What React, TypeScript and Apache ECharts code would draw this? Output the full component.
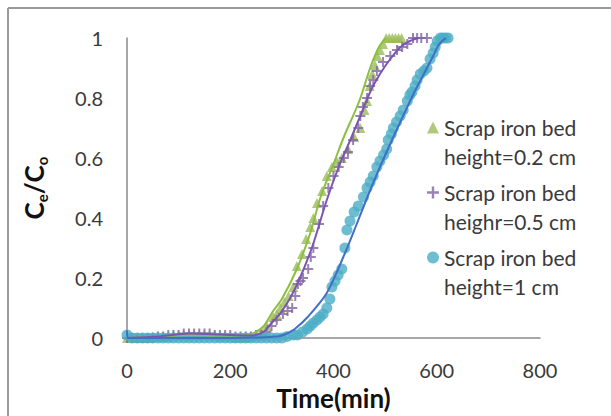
import React, { useEffect, useRef } from "react";
import * as echarts from "echarts";

const xTicks = [0, 200, 400, 600, 800];
const yTicks = [0, 0.2, 0.4, 0.6, 0.8, 1];

const seriesNames = [
  "Scrap iron bed\nheight=0.2 cm",
  "Scrap iron bed\nheighr=0.5 cm",
  "Scrap iron bed\nheight=1 cm",
];

// measured points [time(min), Ce/Co]
const pointsH02: [number, number][] = [
  [0, 0], [10, 0], [20, 0], [30, 0], [40, 0], [50, 0.005], [60, 0.005], [70, 0.005], [80, 0.005],
  [90, 0.01], [100, 0.01], [110, 0.01], [120, 0.01], [130, 0.01], [140, 0.01], [150, 0.01],
  [160, 0.01], [170, 0.01], [180, 0.005], [190, 0.005], [200, 0.005], [210, 0], [220, 0], [230, 0],
  [240, 0.005], [250, 0.01], [260, 0.02], [271, 0.04], [283, 0.07], [290, 0.08], [297, 0.1],
  [305, 0.12], [313, 0.14], [322, 0.17], [329, 0.24], [339, 0.28], [347, 0.33], [355, 0.37],
  [361, 0.4], [368, 0.45], [378, 0.49], [387, 0.54], [397, 0.57], [406, 0.59], [416, 0.6],
  [428, 0.63], [440, 0.67], [452, 0.7], [460, 0.76], [465, 0.79], [470, 0.84], [475, 0.88],
  [480, 0.91], [485, 0.94], [490, 0.96], [496, 0.98], [502, 1], [508, 1], [514, 1], [520, 1],
  [526, 1], [532, 1],
];

const pointsH05: [number, number][] = [
  [0, 0], [10, 0], [20, 0], [30, 0], [40, 0], [50, 0], [60, 0.005], [70, 0.005], [80, 0.01],
  [90, 0.01], [100, 0.01], [110, 0.015], [120, 0.015], [130, 0.015], [140, 0.015], [150, 0.015],
  [160, 0.015], [170, 0.01], [180, 0.01], [190, 0.01], [200, 0.01], [210, 0.005], [220, 0.005],
  [230, 0.005], [240, 0.005], [250, 0.01], [260, 0.01], [270, 0.02], [280, 0.04], [290, 0.06],
  [302, 0.08], [311, 0.09], [320, 0.1], [326, 0.14], [331, 0.18], [336, 0.19], [341, 0.2],
  [351, 0.23], [356, 0.27], [361, 0.3], [372, 0.38], [380, 0.44], [390, 0.5], [400, 0.54],
  [410, 0.57], [420, 0.6], [428, 0.62], [438, 0.66], [448, 0.7], [452, 0.74], [457, 0.77],
  [465, 0.8], [471, 0.84], [477, 0.86], [484, 0.89], [496, 0.92], [510, 0.94], [523, 0.96],
  [533, 0.97], [543, 0.98], [554, 1], [562, 1], [570, 1], [581, 1],
];

const pointsH1: [number, number][] = [
  [0, 0.01], [10, 0], [20, 0], [30, 0], [40, 0], [50, 0], [60, 0], [70, 0], [80, 0], [90, 0],
  [100, 0], [110, 0], [120, 0], [130, 0], [140, 0], [150, 0], [160, 0], [170, 0], [180, 0],
  [190, 0], [200, 0], [210, 0], [220, 0], [230, 0], [240, 0], [250, 0], [260, 0], [270, 0],
  [280, 0], [290, 0], [300, 0], [310, 0.005], [322, 0.01], [330, 0.01], [340, 0.02],
  [349, 0.03], [355, 0.04], [361, 0.05], [368, 0.06], [374, 0.07], [380, 0.08], [387, 0.1],
  [393, 0.13], [397, 0.17], [403, 0.19], [409, 0.21], [416, 0.23], [422, 0.3], [426, 0.36],
  [432, 0.39], [440, 0.42], [448, 0.44], [458, 0.47], [465, 0.5], [471, 0.52], [477, 0.54],
  [484, 0.57], [490, 0.59], [497, 0.61], [503, 0.63], [506, 0.66], [512, 0.68], [516, 0.7],
  [522, 0.72], [529, 0.74], [535, 0.76], [543, 0.79], [548, 0.81], [552, 0.82], [558, 0.84],
  [562, 0.86], [568, 0.88], [575, 0.89], [581, 0.9], [587, 0.93], [593, 0.95], [597, 0.97],
  [601, 0.99], [607, 1], [612, 1], [617, 1], [622, 1],
];

// fitted curves [time(min), Ce/Co]
const fitH02: [number, number][] = [
  [0, 0], [60, 0.005], [120, 0.01], [180, 0.008], [230, 0.008], [250, 0.02], [265, 0.04],
  [283, 0.09], [300, 0.13], [329, 0.23], [355, 0.35], [375, 0.47], [400, 0.58], [420, 0.67],
  [450, 0.79], [471, 0.9], [488, 0.97], [502, 1],
];

const fitH05: [number, number][] = [
  [0, 0], [60, 0.005], [120, 0.015], [180, 0.012], [240, 0.008], [264, 0.02], [280, 0.05],
  [296, 0.08], [315, 0.13], [335, 0.2], [360, 0.31], [387, 0.46], [410, 0.57], [430, 0.65],
  [452, 0.74], [471, 0.82], [490, 0.88], [510, 0.93], [530, 0.97], [548, 0.99], [565, 1],
];

const fitH1: [number, number][] = [
  [0, 0.025], [3, 0], [100, 0], [200, 0], [290, 0.005], [310, 0.015], [325, 0.03], [350, 0.07],
  [387, 0.15], [419, 0.27], [445, 0.38], [468, 0.48], [490, 0.57], [516, 0.67], [554, 0.81],
  [575, 0.88], [593, 0.94], [605, 0.98], [618, 1],
];

const plusPath = "path://M4,0H6V4H10V6H6V10H4V6H0V4H4Z";
const FONT = "Lato, 'Open Sans', sans-serif";

export default function App() {
  const ref = useRef<HTMLDivElement>(null);
  useEffect(() => {
    if (!ref.current) return;
    const chart = echarts.init(ref.current, null, { renderer: "svg" });
    const colors = ["#9BBB59", "#8064A2", "#4BACC6"];
    chart.setOption({
      animation: false,
      backgroundColor: "#ffffff",
      textStyle: { fontFamily: FONT },
      grid: {
        left: 127,
        top: 38,
        width: 413,
        height: 300,
        containLabel: false,
        outerBoundsMode: "none",
      },
      graphic: [
        {
          type: "line",
          shape: { x1: 8, y1: 8, x2: 611, y2: 8 },
          style: { stroke: "#9a9a9a", lineWidth: 2 },
          silent: true,
        },
        {
          type: "line",
          shape: { x1: 8, y1: 8, x2: 8, y2: 416 },
          style: { stroke: "#9a9a9a", lineWidth: 2 },
          silent: true,
        },
      ],
      legend: {
        orient: "vertical",
        left: 427,
        top: 84,
        padding: 0,
        itemGap: -22,
        itemWidth: 12,
        itemHeight: 12,
        data: [
          { name: seriesNames[0], icon: "triangle" },
          { name: seriesNames[1], icon: plusPath },
          { name: seriesNames[2], icon: "circle" },
        ],
        formatter: (n: string) => "\n" + n,
        textStyle: { fontSize: 21, lineHeight: 29, color: "#3a3a3a", fontFamily: FONT },
      },
      xAxis: {
        type: "value",
        min: 0,
        max: 800,
        interval: 200,
        axisLine: { show: true, lineStyle: { color: "#8a8a8a", width: 1.5 } },
        axisTick: { show: false },
        splitLine: { show: false },
        axisLabel: {
          margin: 22,
          fontSize: 20,
          color: "#3a3a3a",
          fontFamily: FONT,
          formatter: (v: number) => (xTicks.includes(v) ? String(v) : ""),
        },
        name: "Time(min)",
        nameLocation: "middle",
        nameGap: 47,
        nameTextStyle: { fontSize: 26, fontWeight: "bold", color: "#111", fontFamily: FONT },
      },
      yAxis: {
        type: "value",
        min: 0,
        max: 1,
        interval: 0.2,
        axisLine: { show: true, lineStyle: { color: "#8a8a8a", width: 1.5 } },
        axisTick: { show: false },
        splitLine: { show: false },
        axisLabel: {
          margin: 24,
          fontSize: 20,
          color: "#3a3a3a",
          fontFamily: FONT,
          formatter: (v: number) => {
            const t = yTicks.find((y) => Math.abs(y - v) < 1e-6);
            return t === undefined ? "" : String(t);
          },
        },
        name: "{b|C}{s|e}{b|/C}{s|o}",
        nameLocation: "middle",
        nameGap: 78,
        nameRotate: 90,
        nameTextStyle: {
          color: "#111",
          fontFamily: FONT,
          rich: {
            b: { fontSize: 26, fontWeight: "bold", color: "#111", fontFamily: FONT, lineHeight: 30 },
            s: {
              fontSize: 15,
              fontWeight: "bold",
              color: "#111",
              fontFamily: FONT,
              lineHeight: 30,
              verticalAlign: "bottom",
              padding: [12, 0, 0, 0],
            },
          },
        },
      },
      series: [
        {
          name: seriesNames[0],
          type: "scatter",
          data: pointsH02,
          symbol: "triangle",
          symbolSize: 10,
          itemStyle: { color: colors[0] },
          clip: false,
          z: 2,
        },
        {
          name: seriesNames[1],
          type: "scatter",
          data: pointsH05,
          symbol: plusPath,
          symbolSize: 10,
          itemStyle: { color: colors[1] },
          clip: false,
          z: 2,
        },
        {
          name: seriesNames[2],
          type: "scatter",
          data: pointsH1,
          symbol: "circle",
          symbolSize: 11,
          itemStyle: { color: colors[2] },
          clip: false,
          z: 2,
        },
        {
          name: "fit 0.2",
          type: "line",
          data: fitH02,
          smooth: 0.3,
          showSymbol: false,
          symbol: "none",
          lineStyle: { color: "#8CBF3F", width: 2 },
          z: 3,
        },
        {
          name: "fit 0.5",
          type: "line",
          data: fitH05,
          smooth: 0.3,
          showSymbol: false,
          symbol: "none",
          lineStyle: { color: "#7B55B0", width: 2 },
          z: 3,
        },
        {
          name: "fit 1",
          type: "line",
          data: fitH1,
          smooth: 0.3,
          showSymbol: false,
          symbol: "none",
          lineStyle: { color: "#3F6FC6", width: 2 },
          z: 3,
        },
      ],
    });
    return () => chart.dispose();
  }, []);
  return (
    <div
      ref={ref}
      style={{ position: "fixed", left: 0, top: 0, width: 611, height: 416, background: "#fff" }}
    />
  );
}
